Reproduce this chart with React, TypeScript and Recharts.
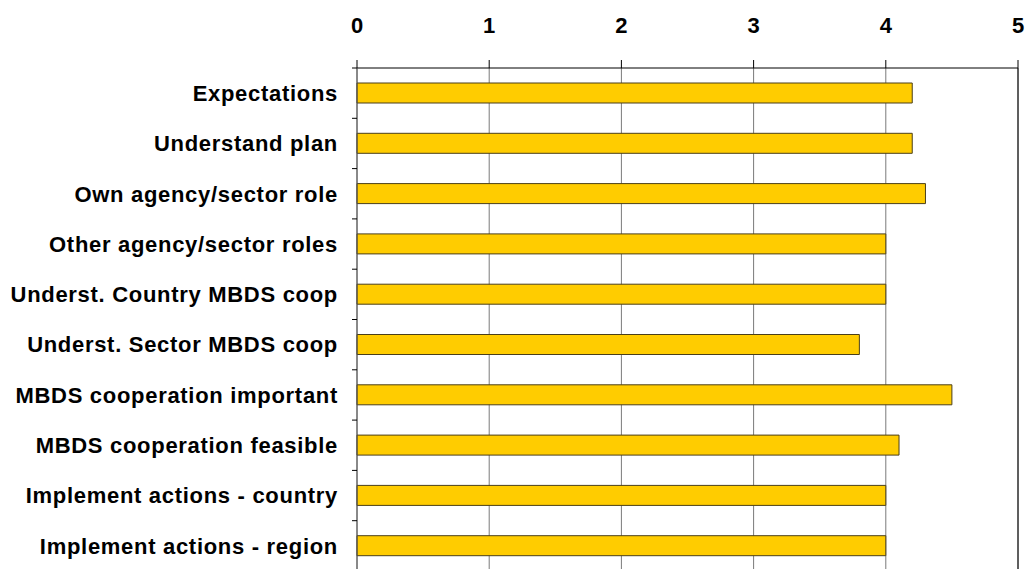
import React from 'react';
import { BarChart, Bar, XAxis, YAxis, CartesianGrid, ReferenceLine } from 'recharts';

const categories = [
  'Expectations',
  'Understand plan',
  'Own agency/sector role',
  'Other agency/sector roles',
  'Underst. Country MBDS coop',
  'Underst. Sector MBDS coop',
  'MBDS cooperation important',
  'MBDS cooperation feasible',
  'Implement actions - country',
  'Implement actions - region',
];
const values = [4.2, 4.2, 4.3, 4.0, 4.0, 3.8, 4.5, 4.1, 4.0, 4.0];
const xTicks = [0, 1, 2, 3, 4, 5];

const data = categories.map((name, i) => ({ name, value: values[i] }));

const FONT = '"Liberation Sans", Arial, sans-serif';
const AXIS_X = 357;

const CategoryTick = (props: any) => {
  const { x, y, payload } = props;
  const half = payload && payload.offset ? payload.offset : 25;
  return (
    <g>
      <line x1={AXIS_X - 5} x2={AXIS_X} y1={y + half} y2={y + half} stroke="#000" />
      {payload.index === 0 && (
        <line x1={AXIS_X - 5} x2={AXIS_X} y1={y - half} y2={y - half} stroke="#000" />
      )}
      <text
        x={x}
        y={y}
        dy="0.355em"
        textAnchor="end"
        fill="#000"
        fontFamily={FONT}
        fontWeight="bold"
        fontSize={22}
        letterSpacing={0.7}
      >
        {payload.value}
      </text>
    </g>
  );
};

export default function App() {
  return (
    <div style={{ position: 'absolute', left: 0, top: 0, background: '#fff' }}>
      <BarChart
        width={1028}
        height={580}
        data={data}
        layout="vertical"
        margin={{ top: 0, right: 10, bottom: 9, left: 0 }}
      >
        <CartesianGrid horizontal={false} vertical={true} stroke="#7a7a7a" strokeWidth={1} />
        <XAxis
          type="number"
          orientation="top"
          height={68}
          domain={[0, 5]}
          ticks={xTicks}
          axisLine={{ stroke: '#000', strokeWidth: 1 }}
          tickLine={{ stroke: '#000' }}
          tickSize={8}
          tickMargin={27}
          tick={{ fill: '#000', fontFamily: FONT, fontWeight: 'bold', fontSize: 22 }}
        />
        <YAxis
          type="category"
          dataKey="name"
          width={357}
          axisLine={{ stroke: '#555' }}
          tickLine={false}
          tickMargin={13}
          tick={<CategoryTick />}
        />
        <ReferenceLine x={5} stroke="#000" strokeWidth={1} />
        <Bar
          dataKey="value"
          fill="#FFCC00"
          stroke="#4a3f1a"
          strokeWidth={1}
          barSize={20}
          isAnimationActive={false}
        />
      </BarChart>
    </div>
  );
}
